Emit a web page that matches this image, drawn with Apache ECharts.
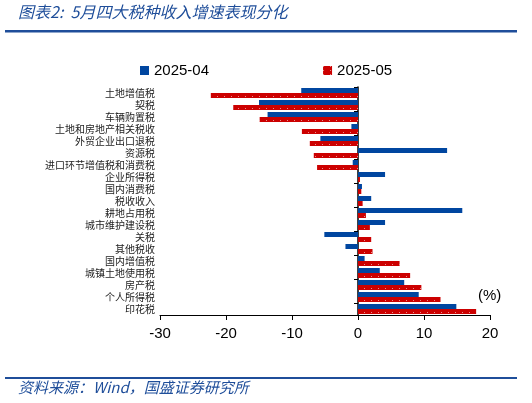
<!DOCTYPE html>
<html><head><meta charset="utf-8">
<script src="https://cdn.jsdelivr.net/npm/echarts@6/dist/echarts.min.js"></script>
<style>html,body{margin:0;padding:0;background:#fff}#c{width:532px;height:403px}</style>
</head><body><div id="c"></div>
<script>
const categories = ['土地增值税','契税','车辆购置税','土地和房地产相关税收','外贸企业出口退税','资源税','进口环节增值税和消费税','企业所得税','国内消费税','税收收入','耕地占用税','城市维护建设税','关税','其他税收','国内增值税','城镇土地使用税','房产税','个人所得税','印花税'];
const apr2025 = [-8.6,-15.0,-13.7,-1.0,-5.7,13.5,-0.8,4.1,0.6,2.0,15.8,4.1,-5.1,-1.9,1.0,3.3,7.0,9.2,14.9];
const may2025 = [-22.3,-18.9,-14.9,-8.5,-7.3,-6.7,-6.2,0.3,0.5,0.7,1.2,1.8,2.0,2.2,6.3,7.9,9.6,12.5,17.9];
const seriesNames = ['2025-04','2025-05'];
const xTicks = [-30,-20,-10,0,10,20];

const BLUE = '#0046A0', RED = '#CC0000', TXT_BLUE = '#1F4E9A';
const cjk = '"Noto Sans CJK SC", "Noto Sans", sans-serif';
const chart = echarts.init(document.getElementById('c'), null, {renderer:'canvas'});
chart.setOption({
  animation:false,
  textStyle:{fontFamily:cjk},
  grid:{left:160,right:42,top:87,bottom:88},
  legend:{
    data:[{name:seriesNames[0],icon:'rect'},{name:seriesNames[1],icon:'rect'}],
    top:58,left:135,itemGap:114,itemWidth:9,itemHeight:9,
    textStyle:{fontSize:15,color:'#000',fontFamily:'"Liberation Sans", Arial, sans-serif'}
  },
  xAxis:{
    type:'value',min:xTicks[0],max:xTicks[xTicks.length-1],interval:10,
    axisLine:{show:true,lineStyle:{color:'#000',width:1}},
    axisTick:{show:true,length:5,lineStyle:{color:'#000'}},
    splitLine:{show:false},
    axisLabel:{fontSize:15,color:'#000',margin:11,fontFamily:'"Liberation Sans", Arial, sans-serif'}
  },
  yAxis:[{
    type:'category',data:categories,inverse:true,
    axisLine:{show:false,onZero:false},axisTick:{show:false},
    axisLabel:{fontSize:10,color:'#222',margin:5,interval:0}
  },{
    type:'category',data:categories,inverse:true,position:'left',
    axisLine:{show:true,onZero:true,lineStyle:{color:'#000',width:1.5}},
    axisTick:{show:true,length:4,inside:false,lineStyle:{color:'#000'}},
    axisLabel:{show:false}
  }],
  series:[{
    name:seriesNames[0],type:'bar',data:apr2025,yAxisIndex:0,
    barWidth:5,barGap:'0%',itemStyle:{color:BLUE}
  },{
    name:seriesNames[1],type:'bar',data:may2025,yAxisIndex:0,
    barWidth:5,barGap:'0%',
    itemStyle:{color:RED,decal:{symbol:'rect',color:'rgba(255,255,255,0.55)',dashArrayX:[[1,6]],dashArrayY:[1,3],symbolSize:1,rotation:0}}
  }],
  graphic:[
    {type:'text',left:18,top:4,style:{text:'图表2:  5月四大税种收入增速表现分化',fill:TXT_BLUE,font:'italic 16px '+cjk}},
    {type:'rect',shape:{x:5,y:30,width:512,height:2.5},style:{fill:'#1F4E9A'}},
    {type:'rect',shape:{x:5,y:377,width:512,height:2},style:{fill:'#1F4E9A'}},
    {type:'text',left:18,top:380,style:{text:'资料来源：Wind，国盛证券研究所',fill:TXT_BLUE,font:'italic 15px '+cjk}},
    {type:'text',left:478,top:288,style:{text:'(%)',fill:'#000',font:'15px "Liberation Sans", Arial, sans-serif'}}
  ]
});
</script></body></html>
